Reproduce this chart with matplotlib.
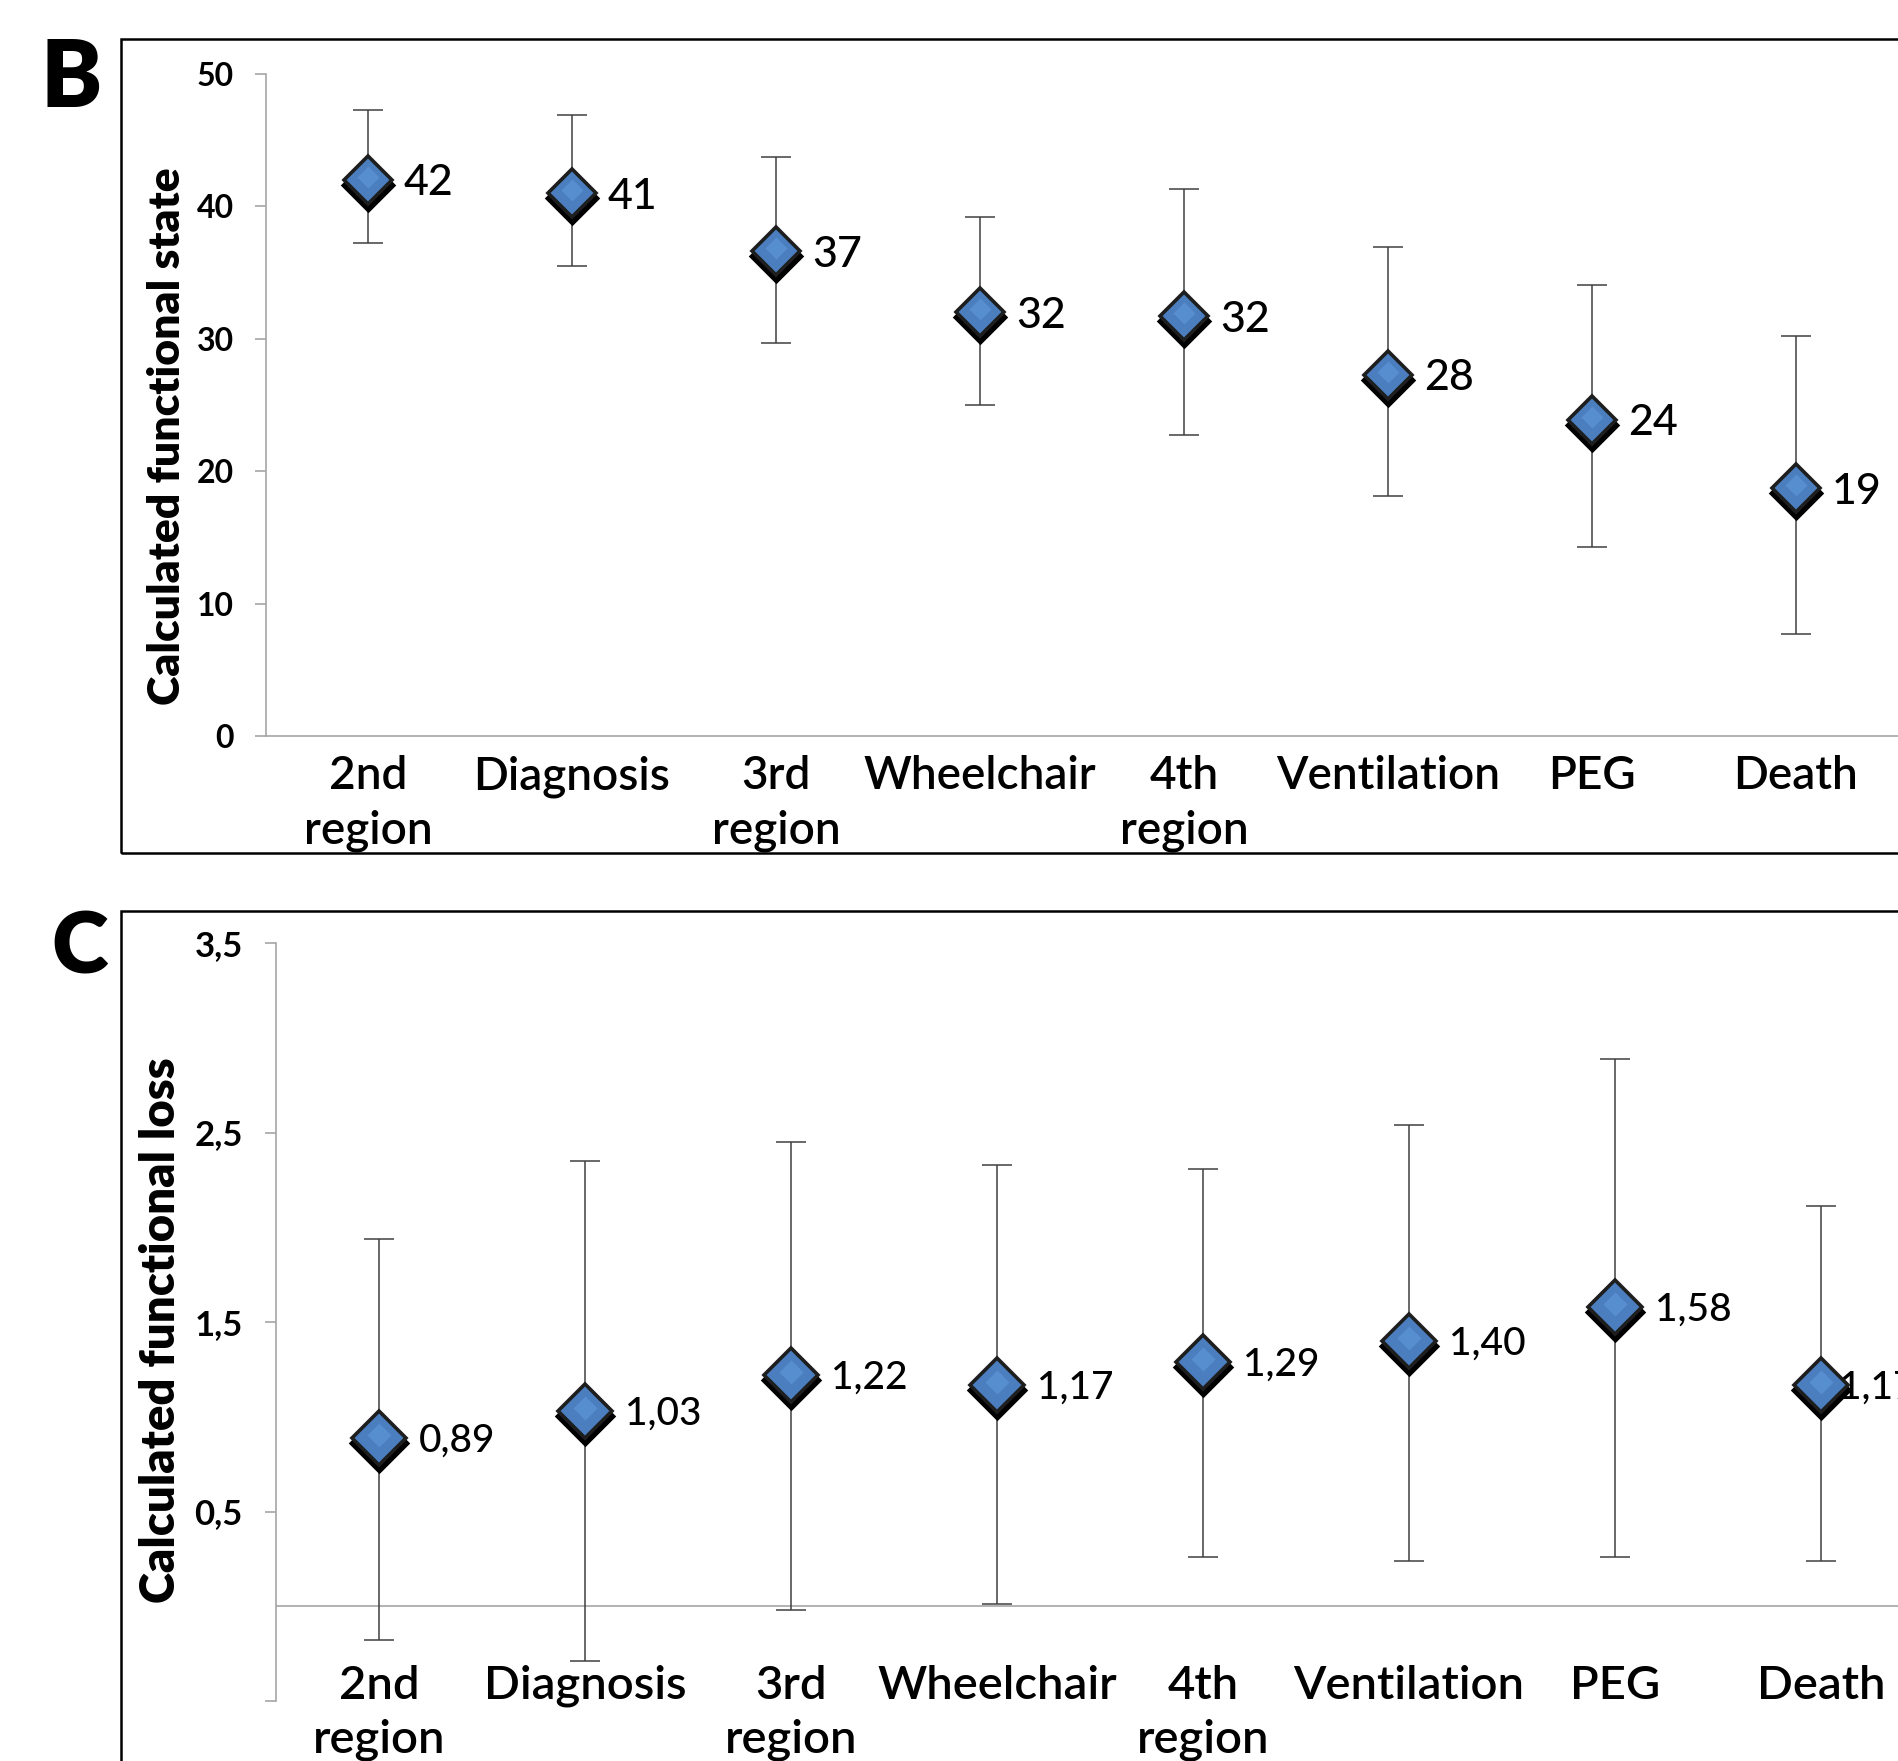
import numpy as np
import matplotlib
matplotlib.use("Agg")
import matplotlib.pyplot as plt
from matplotlib.patches import Rectangle
from matplotlib.transforms import offset_copy

plt.rcParams['font.family'] = ['Lato', 'DejaVu Sans']

# categories shared by both panels
categories = ['2nd\nregion', 'Diagnosis', '3rd\nregion', 'Wheelchair',
              '4th\nregion', 'Ventilation', 'PEG', 'Death']

# panel B: calculated functional state
state_mean = [42.0, 41.0, 36.6, 32.0, 31.7, 27.3, 23.9, 18.7]
state_hi = [47.3, 46.9, 43.7, 39.2, 41.3, 36.9, 34.1, 30.2]
state_lo = [37.2, 35.5, 29.7, 25.0, 22.7, 18.1, 14.3, 7.7]
state_text = ['42', '41', '37', '32', '32', '28', '24', '19']
state_ticks = [0, 10, 20, 30, 40, 50]

# panel C: calculated functional loss
loss_mean = [0.89, 1.03, 1.22, 1.17, 1.29, 1.40, 1.58, 1.17]
loss_hi = [1.94, 2.35, 2.45, 2.33, 2.31, 2.54, 2.89, 2.11]
loss_lo = [-0.18, -0.29, -0.02, 0.01, 0.26, 0.24, 0.26, 0.24]
loss_text = ['0,89', '1,03', '1,22', '1,17', '1,29', '1,40', '1,58', '1,17']
loss_ticks = [-0.5, 0.5, 1.5, 2.5, 3.5]
loss_ticklabels = ['', '0,5', '1,5', '2,5', '3,5']

W, H = 1899, 1761
GREY = '#a6a6a6'
BLUE = '#4a7ebf'

fig = plt.figure(figsize=(W / 100, H / 100), dpi=100)


def px_box(left, right, top, bottom):
    return [left / W, 1 - bottom / H, (right - left) / W, (bottom - top) / H]


def draw_panel(ax, mean, lo, hi, texts, ms, dx_list, fs_val):
    x = np.arange(len(mean))
    mean = np.array(mean)
    yerr = [mean - np.array(lo), np.array(hi) - mean]
    ax.errorbar(x, mean, yerr=yerr, fmt='none', ecolor='#404040',
                elinewidth=1.1, capsize=10.5, capthick=1.1, zorder=1)
    shadow = offset_copy(ax.transData, fig=fig, x=0, y=-5, units='dots')
    ax.plot(x, mean, linestyle='none', marker='D', ms=ms, mfc='black',
            mec='black', mew=3.8, transform=shadow, zorder=3)
    ax.plot(x, mean, linestyle='none', marker='D', ms=ms, mfc=BLUE,
            mec='#1e1e1e', mew=2.6, zorder=4)
    # lighter upper half of the marker face
    hl = offset_copy(ax.transData, fig=fig, x=0, y=3, units='dots')
    ax.plot(x, mean, linestyle='none', marker='D', ms=ms * 0.45,
            mfc='#5a93d4', mec='none', transform=hl, zorder=5, alpha=0.8)
    for xi, yi, t, dx in zip(x, mean, texts, dx_list):
        ax.annotate(t, (xi, yi), xytext=(dx, 0), textcoords='offset pixels',
                    ha='left', va='center_baseline', fontsize=fs_val,
                    fontweight='medium', zorder=2)
    ax.set_xlim(-0.5, len(mean) - 0.5)
    for s in ['top', 'right']:
        ax.spines[s].set_visible(False)
    ax.spines['left'].set_color(GREY)
    ax.spines['left'].set_linewidth(1.2)
    ax.tick_params(axis='y', direction='out', length=8, width=1.2, color=GREY)
    ax.tick_params(axis='x', length=0)


# ---- panel B ----
axB = fig.add_axes(px_box(266, 1898, 74, 736))
draw_panel(axB, state_mean, state_lo, state_hi, state_text, 24.5,
           [36] * 8, 31)
axB.set_ylim(0, 50)
axB.set_yticks(state_ticks)
axB.set_yticklabels([str(t) for t in state_ticks], fontsize=23,
                    fontweight='bold')
axB.tick_params(axis='y', pad=15)
axB.spines['bottom'].set_color(GREY)
axB.spines['bottom'].set_linewidth(1.2)
axB.set_xticks(range(len(categories)))
axB.set_xticklabels(categories, fontsize=33, fontweight='semibold')
axB.tick_params(axis='x', pad=14)
for t in axB.get_xticklabels():
    t.set_linespacing(1.35)

# ---- panel C ----
axC = fig.add_axes(px_box(276, 1924, 943, 1701))
draw_panel(axC, loss_mean, loss_lo, loss_hi, loss_text, 27,
           [40] * 7 + [18], 28)
axC.set_ylim(-0.5, 3.5)
axC.set_yticks(loss_ticks)
axC.set_yticklabels(loss_ticklabels, fontsize=25, fontweight='bold')
axC.tick_params(axis='y', pad=16)
axC.spines['bottom'].set_visible(False)
axC.axhline(0, color=GREY, lw=1.2, zorder=0)
axC.set_xticks(range(len(categories)))
axC.set_xticklabels(categories, fontsize=34, fontweight='semibold')
axC.tick_params(axis='x', pad=-26)
for t in axC.get_xticklabels():
    t.set_linespacing(1.35)

# y labels, panel letters, frames
fig.text(167 / W, 1 - 436 / H, 'Calculated functional state', rotation=90,
         ha='center', va='center', fontsize=32, fontweight='heavy')
fig.text(161 / W, 1 - 1330 / H, 'Calculated functional loss', rotation=90,
         ha='center', va='center', fontsize=34, fontweight='heavy')
fig.text(71 / W, 1 - 80 / H, 'B', ha='center', va='center',
         fontsize=66, fontweight='heavy')
fig.text(80 / W, 1 - 948 / H, 'C', ha='center', va='center',
         fontsize=62, fontweight='heavy')

fig.patches.append(Rectangle((121 / W, 1 - 853 / H), 1.2, (853 - 39) / H,
                             transform=fig.transFigure, fill=False,
                             ec='black', lw=1.8))
fig.patches.append(Rectangle((121 / W, -0.2), 1.2, 0.2 + 1 - 911 / H,
                             transform=fig.transFigure, fill=False,
                             ec='black', lw=1.8))

fig.savefig('out.png', dpi=100)
